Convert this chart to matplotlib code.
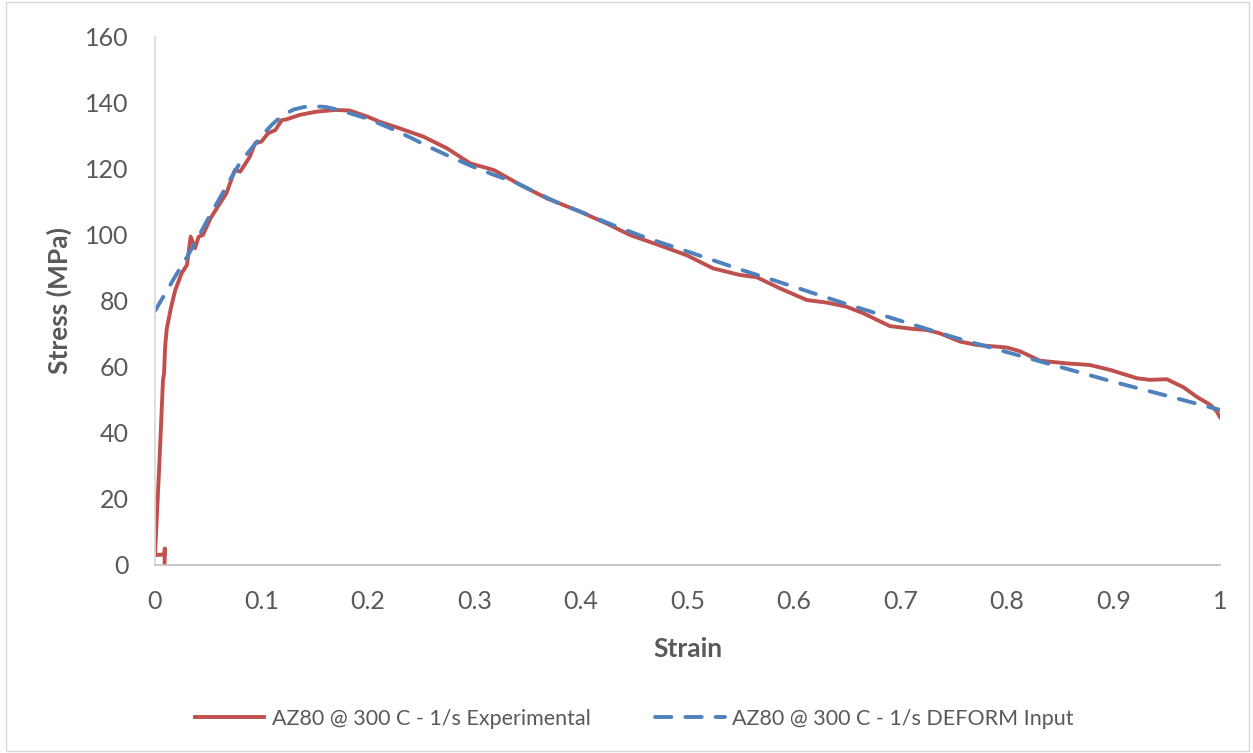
import matplotlib
matplotlib.use("Agg")
import matplotlib.pyplot as plt
from matplotlib.patches import Rectangle

# Experimental curve (strain, stress in MPa)
exp_strain = [0.009, 0.0092, 0.0088, 0.0, 0.004, 0.0075, 0.0085, 0.0095, 0.011, 0.015,
              0.019, 0.025, 0.030, 0.0335, 0.0376, 0.041, 0.045, 0.052, 0.061, 0.067,
              0.075, 0.08, 0.089, 0.094, 0.1, 0.106, 0.113, 0.119, 0.123, 0.136,
              0.152, 0.17, 0.183, 0.2, 0.211, 0.23,
              0.252, 0.274, 0.296, 0.318, 0.343, 0.368, 0.399, 0.424, 0.446, 0.477,
              0.499, 0.524, 0.549, 0.565, 0.587, 0.612, 0.631, 0.649, 0.665, 0.681,
              0.69, 0.71, 0.725, 0.737, 0.756, 0.771, 0.8, 0.812, 0.831, 0.856,
              0.878, 0.897, 0.922, 0.934, 0.95, 0.966, 0.978, 0.991, 0.997, 1.0]
exp_stress = [0, 5, 3.2, 3, 30, 56, 58, 66, 71.5, 78,
              83.3, 88.4, 90.9, 99.5, 96, 99.5, 100, 105, 109.6, 112.6,
              119.7, 119.2, 123.7, 127.8, 128.3, 130.8, 131.8, 134.8, 135, 136.4,
              137.4, 137.9, 137.7, 135.8, 134.3, 132.3,
              129.8, 126.3, 121.7, 119.7, 115.2, 111.1, 107.1, 103.5, 100, 96.5,
              93.9, 89.9, 87.9, 87.2, 83.8, 80.3, 79.5, 78.3, 76.3, 73.8,
              72.4, 71.6, 71.2, 70.2, 67.7, 66.7, 65.9, 64.8, 61.9, 61.1,
              60.6, 59.1, 56.6, 56.1, 56.3, 53.8, 51, 48.5, 46.5, 44.8]

# DEFORM input curve
def_strain = [0, 0.01, 0.02, 0.03, 0.04, 0.05, 0.06, 0.07, 0.08, 0.09, 0.1, 0.11, 0.12,
              0.13, 0.14, 0.15, 0.16, 0.17, 0.18, 0.2, 0.22, 0.24, 0.26, 0.28, 0.3,
              0.32, 0.34, 0.36, 0.38, 0.4, 0.43, 0.46, 0.5, 0.55, 0.6, 0.65, 0.7,
              0.75, 0.8, 0.85, 0.9, 0.95, 1.0]
def_stress = [77, 82.5, 88, 93.3, 99, 105, 110.7, 116.5, 122, 126, 130, 133.5, 136.3,
              138, 138.8, 139, 138.8, 138.1, 137.2, 135.2, 132.5, 129.5, 126.3, 123.3, 120.5,
              118, 115.7, 112.5, 109.5, 107, 103, 99.3, 95, 89.5, 84.3, 79, 74,
              69, 64.5, 60, 55.5, 51.3, 47]

x_ticks = [0, 0.1, 0.2, 0.3, 0.4, 0.5, 0.6, 0.7, 0.8, 0.9, 1]
x_ticklabels = ["0", "0.1", "0.2", "0.3", "0.4", "0.5", "0.6", "0.7", "0.8", "0.9", "1"]
y_ticks = [0, 20, 40, 60, 80, 100, 120, 140, 160]

plt.rcParams['font.family'] = ['Lato', 'DejaVu Sans']
txt_grey = "#595959"

fig = plt.figure(figsize=(12.53, 7.53), dpi=100)
ax = fig.add_axes([155/1253, 188/753, 1065/1253, 528/753])

ax.plot(exp_strain, exp_stress, color="#C0504D", lw=2.8,
        label="AZ80 @ 300 C - 1/s Experimental", solid_joinstyle="round")
ax.plot(def_strain, def_stress, color="#4F81BD", lw=2.8, ls=(0, (4.2, 3.6)),
        dash_capstyle="round", label="AZ80 @ 300 C - 1/s DEFORM Input")

ax.set_xlim(0, 1)
ax.set_ylim(0, 160)
ax.set_xticks(x_ticks)
ax.set_xticklabels(x_ticklabels)
ax.set_yticks(y_ticks)
ax.tick_params(length=0, labelsize=18, labelcolor=txt_grey)
ax.tick_params(axis="x", pad=18)
ax.tick_params(axis="y", pad=19)

for s in ["top", "right"]:
    ax.spines[s].set_visible(False)
ax.spines["left"].set_color("#d9d9d9")
ax.spines["bottom"].set_color("#bfbfbf")
ax.spines["left"].set_linewidth(1.2)
ax.spines["bottom"].set_linewidth(1.2)

ax.set_xlabel("Strain", fontsize=19, fontweight="bold", color=txt_grey, labelpad=17)
ax.set_ylabel("Stress (MPa)", fontsize=19, fontweight="bold", color=txt_grey, labelpad=9)

leg = fig.legend(loc="center", bbox_to_anchor=(634/1253, 1 - 719/753), ncol=2,
                 frameon=False, fontsize=15.5, handlelength=3.25, columnspacing=3.0,
                 handletextpad=0.33)
for t in leg.get_texts():
    t.set_color(txt_grey)

fig.patches.append(Rectangle((0.005, 0.003), 0.992, 0.994, transform=fig.transFigure,
                             fill=False, edgecolor="#d9d9d9", lw=1))

fig.savefig("out.png", dpi=100)
